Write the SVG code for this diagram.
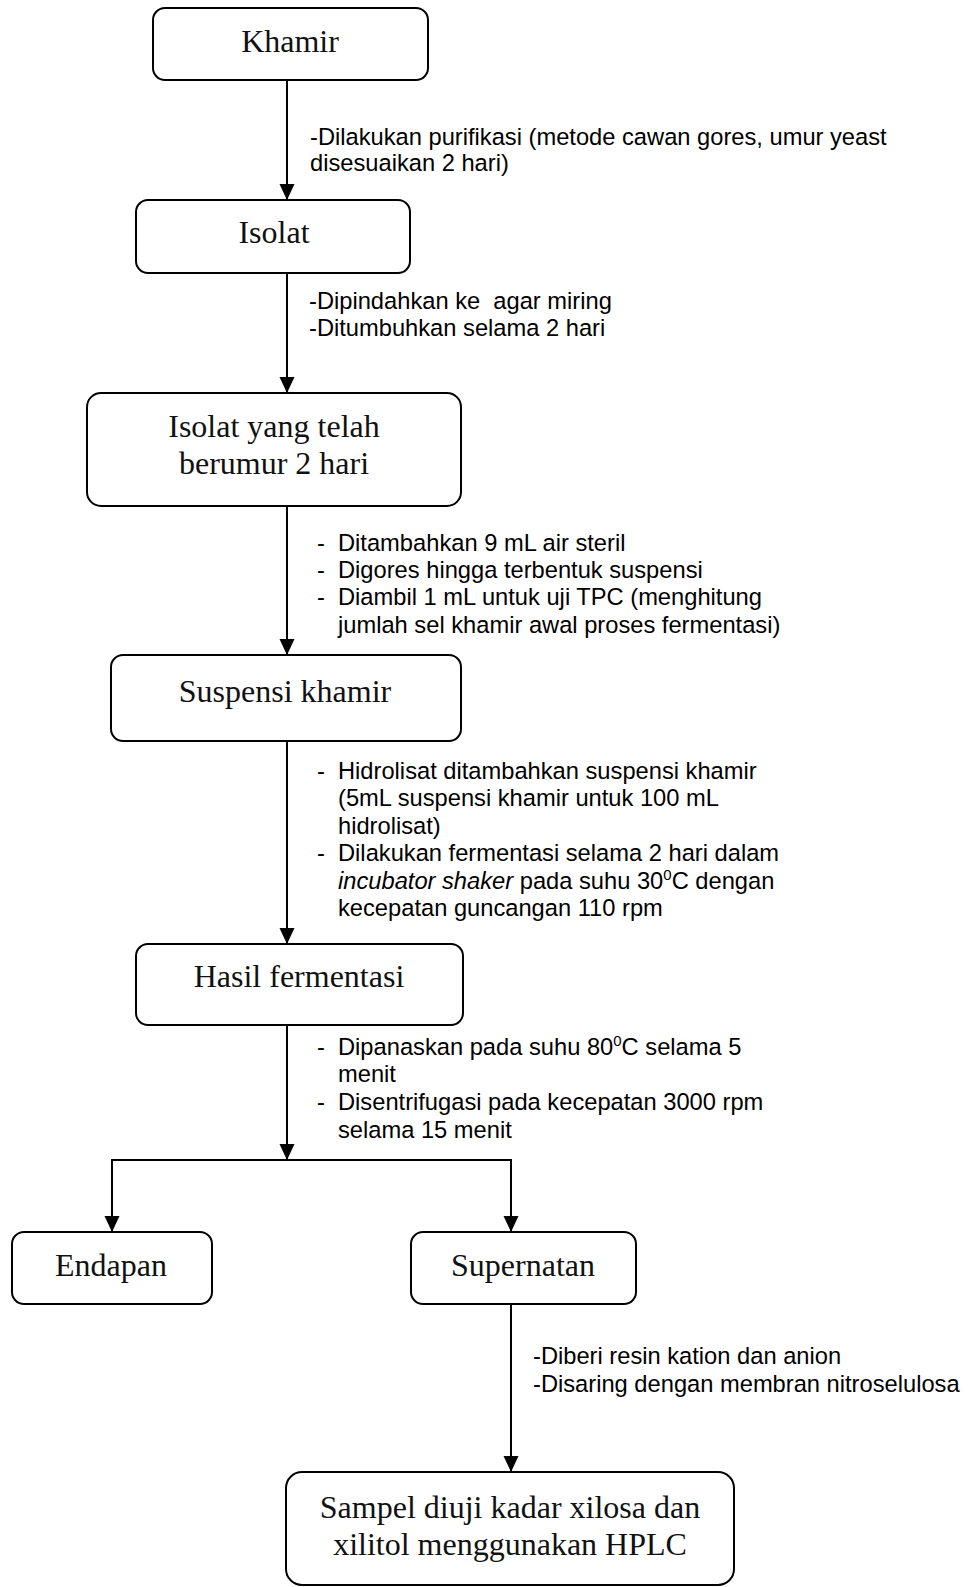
<svg xmlns="http://www.w3.org/2000/svg" width="973" height="1587" viewBox="0 0 973 1587">
<defs>
<marker id="ah" markerUnits="userSpaceOnUse" markerWidth="15" markerHeight="16" refX="16" refY="7.5" orient="auto">
<path d="M0,0 L16,7.5 L0,15 z" fill="#000"/>
</marker>
<style>
.box{fill:#fff;stroke:#000;stroke-width:2}
.nt{font-family:"Liberation Serif","Times New Roman",serif;font-size:32px;fill:#111;text-anchor:middle}
.lb{font-family:"Liberation Sans",Arial,sans-serif;font-size:23.7px;fill:#000}
.cn{fill:none;stroke:#000;stroke-width:2}
.ar{marker-end:url(#ah)}
</style>
</defs>
<rect width="973" height="1587" fill="#fff"/>
<g id="connectors">
<line class="cn ar" x1="287" y1="80" x2="287" y2="200"/>
<line class="cn ar" x1="287" y1="273" x2="287" y2="393"/>
<line class="cn ar" x1="287" y1="506" x2="287" y2="655"/>
<line class="cn ar" x1="287" y1="741" x2="287" y2="944"/>
<line class="cn ar" x1="287" y1="1025" x2="287" y2="1160"/>
<polyline class="cn" points="112,1232 112,1160 511,1160 511,1232"/>
<line class="cn ar" x1="112" y1="1160" x2="112" y2="1232"/>
<line class="cn ar" x1="511" y1="1160" x2="511" y2="1232"/>
<line class="cn ar" x1="511" y1="1304" x2="511" y2="1472"/>
</g>
<g id="labels">
<text class="lb" x="310" y="145">-Dilakukan purifikasi (metode cawan gores, umur yeast</text>
<text class="lb" x="310" y="171">disesuaikan 2 hari)</text>
<text class="lb" x="309" y="309" xml:space="preserve">-Dipindahkan ke  agar miring</text>
<text class="lb" x="309" y="336">-Ditumbuhkan selama 2 hari</text>
<g>
<text class="lb" x="317" y="551">-</text><text class="lb" x="338" y="551">Ditambahkan 9 mL air steril</text>
<text class="lb" x="317" y="578">-</text><text class="lb" x="338" y="578">Digores hingga terbentuk suspensi</text>
<text class="lb" x="317" y="605">-</text><text class="lb" x="338" y="605">Diambil 1 mL untuk uji TPC (menghitung</text>
<text class="lb" x="338" y="633">jumlah sel khamir awal proses fermentasi)</text>
</g>
<g>
<text class="lb" x="317" y="779">-</text><text class="lb" x="338" y="779">Hidrolisat ditambahkan suspensi khamir</text>
<text class="lb" x="338" y="806">(5mL suspensi khamir untuk 100 mL</text>
<text class="lb" x="338" y="834">hidrolisat)</text>
<text class="lb" x="317" y="861">-</text><text class="lb" x="338" y="861">Dilakukan fermentasi selama 2 hari dalam</text>
<text class="lb" x="338" y="889"><tspan font-style="italic">incubator shaker</tspan> pada suhu 30<tspan font-size="15" dy="-9">0</tspan><tspan dy="9">C dengan</tspan></text>
<text class="lb" x="338" y="916">kecepatan guncangan 110 rpm</text>
</g>
<g>
<text class="lb" x="317" y="1055">-</text><text class="lb" x="338" y="1055">Dipanaskan pada suhu 80<tspan font-size="15" dy="-9">0</tspan><tspan dy="9">C selama 5</tspan></text>
<text class="lb" x="338" y="1082">menit</text>
<text class="lb" x="317" y="1110">-</text><text class="lb" x="338" y="1110">Disentrifugasi pada kecepatan 3000 rpm</text>
<text class="lb" x="338" y="1138">selama 15 menit</text>
</g>
<text class="lb" x="533" y="1364">-Diberi resin kation dan anion</text>
<text class="lb" x="533" y="1392">-Disaring dengan membran nitroselulosa</text>
</g>
<g id="khamir"><rect class="box" x="153" y="8" width="275" height="72" rx="12"/><text class="nt" x="290" y="52">Khamir</text></g>
<g id="isolat"><rect class="box" x="136" y="200" width="274" height="73" rx="12"/><text class="nt" x="274" y="243">Isolat</text></g>
<g id="isolat2"><rect class="box" x="87" y="393" width="374" height="113" rx="14"/><text class="nt" x="274" y="437">Isolat yang telah</text><text class="nt" x="274" y="474">berumur 2 hari</text></g>
<g id="suspensi"><rect class="box" x="111" y="655" width="350" height="86" rx="12"/><text class="nt" x="285" y="702">Suspensi khamir</text></g>
<g id="hasil"><rect class="box" x="136" y="944" width="327" height="81" rx="12"/><text class="nt" x="299" y="987">Hasil fermentasi</text></g>
<g id="endapan"><rect class="box" x="12" y="1232" width="200" height="72" rx="12"/><text class="nt" x="111" y="1276">Endapan</text></g>
<g id="supernatan"><rect class="box" x="411" y="1232" width="225" height="72" rx="12"/><text class="nt" x="523" y="1276">Supernatan</text></g>
<g id="sampel"><rect class="box" x="286" y="1472" width="448" height="113" rx="16"/><text class="nt" x="510" y="1518">Sampel diuji kadar xilosa dan</text><text class="nt" x="510" y="1555">xilitol menggunakan HPLC</text></g>
</svg>
